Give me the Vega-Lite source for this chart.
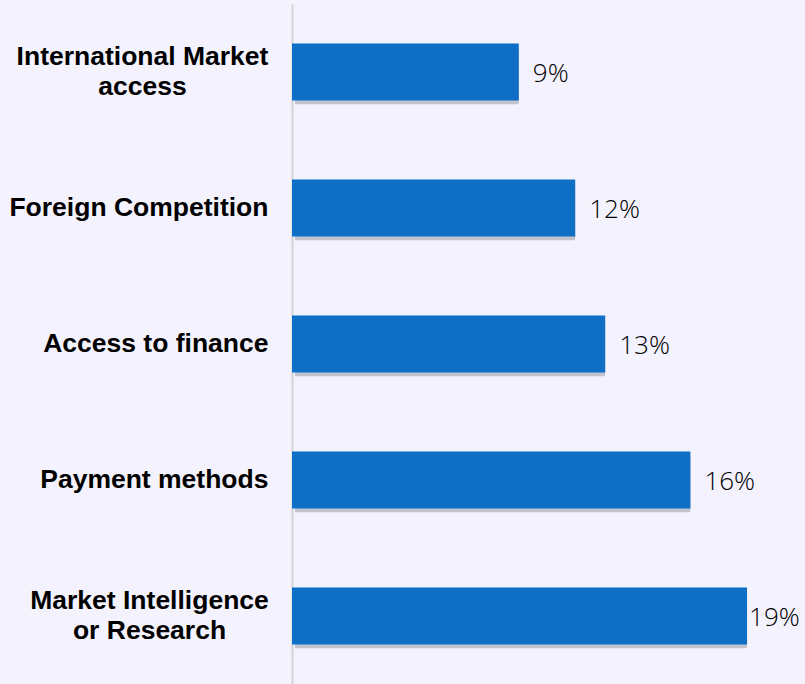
{
  "$schema": "https://vega.github.io/schema/vega-lite/v6.json",
  "autosize": "none",
  "padding": {"left": 292, "top": 4, "right": 0, "bottom": 0},
  "width": 513,
  "height": 680,
  "background": "#f3f2fd",
  "config": {"view": {"stroke": null}},
  "data": {
    "values": [
      {"category": "International Market access", "value": 9.45, "label": "9%"},
      {"category": "Foreign Competition", "value": 11.8, "label": "12%"},
      {"category": "Access to finance", "value": 13.05, "label": "13%"},
      {"category": "Payment methods", "value": 16.6, "label": "16%"},
      {"category": "Market Intelligence or Research", "value": 18.96, "label": "19%"}
    ]
  },
  "encoding": {
    "y": {
      "field": "category",
      "type": "nominal",
      "sort": null,
      "scale": {"paddingInner": 0.58, "paddingOuter": 0.29},
      "axis": {
        "title": null,
        "ticks": false,
        "domain": true,
        "domainColor": "#d4d4d8",
        "domainWidth": 2,
        "labelFont": "Liberation Sans",
        "labelFontWeight": "bold",
        "labelFontSize": 26.5,
        "labelColor": "#000000",
        "labelAlign": {"condition": {"test": "indexof(datum.value, ' access') > 0 || indexof(datum.value, ' Research') > 0", "value": "center"}, "value": "right"},
        "labelPadding": {"condition": [{"test": "datum.value == 'International Market access'", "value": 150}, {"test": "datum.value == 'Market Intelligence or Research'", "value": 143}], "value": 24},
        "labelOffset": {"condition": {"test": "indexof(datum.value, ' access') > 0 || indexof(datum.value, ' Research') > 0", "value": -15}, "value": 0},
        "labelLimit": 0,
        "labelLineHeight": 30,
        "labelExpr": "datum.value == 'International Market access' ? ['International Market', 'access'] : datum.value == 'Market Intelligence or Research' ? ['Market Intelligence', 'or Research'] : datum.value"
      }
    },
    "x": {
      "field": "value",
      "type": "quantitative",
      "scale": {"domain": [0, 21.375], "nice": false, "zero": true},
      "axis": null
    }
  },
  "layer": [
    {
      "mark": {"type": "bar", "color": "#55555f", "opacity": 0.3, "xOffset": 3, "yOffset": 4, "cornerRadius": 2}
    },
    {
      "mark": {"type": "bar", "color": "#0f6fc6"}
    },
    {
      "transform": [{"filter": "datum.value < 18"}],
      "mark": {"type": "text", "align": "left", "baseline": "middle", "dx": 14, "dy": 2, "font": "Open Sans", "fontWeight": 300, "fontSize": 26, "color": "#000000"},
      "encoding": {"text": {"field": "label"}}
    },
    {
      "transform": [{"filter": "datum.value >= 18"}],
      "mark": {"type": "text", "align": "left", "baseline": "middle", "dx": 2, "dy": 2, "font": "Open Sans", "fontWeight": 300, "fontSize": 26, "color": "#000000"},
      "encoding": {"text": {"field": "label"}}
    }
  ]
}
